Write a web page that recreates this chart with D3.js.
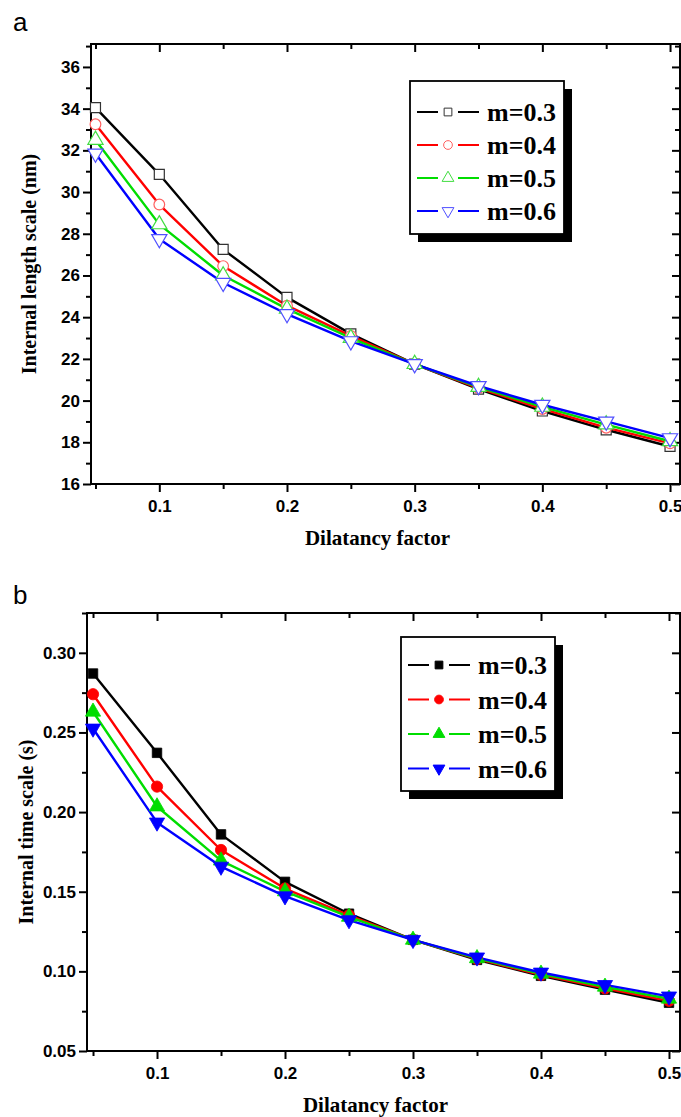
<!DOCTYPE html>
<html><head><meta charset="utf-8">
<script src="https://cdn.jsdelivr.net/npm/d3@7"></script>
<style>
html,body{margin:0;padding:0;background:#fff;}
svg{display:block;}
</style></head>
<body>
<svg id="chart" width="681" height="1117"></svg>
<script>
// ---------- data ----------
const dilatancy = [0.05, 0.1, 0.15, 0.2, 0.25, 0.3, 0.35, 0.4, 0.45, 0.5];
const seriesNames = ["m=0.3", "m=0.4", "m=0.5", "m=0.6"];
const seriesColors = ["#000000", "#ff0000", "#00dd00", "#0000ff"];
const markerColorsOpen = ["#333333", "#ff6060", "#40dd40", "#5050ff"];

const lengthM03 = [34.05, 30.85, 27.25, 24.95, 23.2, 21.75, 20.55, 19.5, 18.6, 17.8];
const lengthM04 = [33.25, 29.4, 26.45, 24.55, 23.1, 21.75, 20.6, 19.6, 18.7, 17.95];
const lengthM05 = [32.5, 28.45, 26.0, 24.4, 23.0, 21.75, 20.65, 19.7, 18.85, 18.05];
const lengthM06 = [31.85, 27.75, 25.65, 24.15, 22.85, 21.75, 20.7, 19.8, 19.0, 18.2];

const timeM03 = [0.287, 0.2372, 0.186, 0.1562, 0.1362, 0.1198, 0.1072, 0.0972, 0.0885, 0.0803];
const timeM04 = [0.274, 0.216, 0.1762, 0.152, 0.1352, 0.1198, 0.1078, 0.0978, 0.0893, 0.0815];
const timeM05 = [0.263, 0.2035, 0.1695, 0.1502, 0.1342, 0.1198, 0.1082, 0.0985, 0.0903, 0.0828];
const timeM06 = [0.2525, 0.1935, 0.1658, 0.1472, 0.1322, 0.1198, 0.1088, 0.0993, 0.0915, 0.0843];

const xMajorTicks = [0.1, 0.2, 0.3, 0.4, 0.5];
const xMinorTicks = [0.05, 0.15, 0.25, 0.35, 0.45];
const lengthMajorTicks = [16, 18, 20, 22, 24, 26, 28, 30, 32, 34, 36];
const lengthMinorTicks = [17, 19, 21, 23, 25, 27, 29, 31, 33, 35, 37];
const timeMajorTicks = [0.05, 0.10, 0.15, 0.20, 0.25, 0.30];
const timeMinorTicks = [0.075, 0.125, 0.175, 0.225, 0.275, 0.325];

const svg = d3.select("#chart");
const symbolsOf = [d3.symbolSquare, d3.symbolCircle, d3.symbolTriangle, d3.symbolTriangle];
const rotOf = [0, 0, 0, 180];

function panel(cfg) {
  const x = d3.scaleLinear().domain(cfg.xDomain).range(cfg.xRange);
  const y = d3.scaleLinear().domain(cfg.yDomain).range(cfg.yRange);
  const g = svg.append("g");
  const [x0, x1] = cfg.xRange, [y0, y1] = cfg.yRange; // y0 bottom, y1 top

  // panel letter
  svg.append("text").attr("x", 13).attr("y", cfg.letterY)
    .attr("font-family", "Liberation Sans, Arial, sans-serif").attr("font-size", 26)
    .text(cfg.letter);

  // axes via d3 axis generators
  const bottomMaj = d3.axisBottom(x).tickValues(xMajorTicks).tickSize(8).tickFormat(d3.format(".1f"));
  const bottomMin = d3.axisBottom(x).tickValues(xMinorTicks).tickSize(5).tickFormat("");
  const topMaj = d3.axisTop(x).tickValues(xMajorTicks).tickSize(-8).tickFormat("");
  const topMin = d3.axisTop(x).tickValues(xMinorTicks).tickSize(-5).tickFormat("");
  const leftMaj = d3.axisLeft(y).tickValues(cfg.yMajor).tickSize(8).tickFormat(cfg.yFormat);
  const leftMin = d3.axisLeft(y).tickValues(cfg.yMinor.filter(v => v <= cfg.yDomain[1])).tickSize(5).tickFormat("");
  const rightMaj = d3.axisRight(y).tickValues(cfg.yMajor).tickSize(-8).tickFormat("");
  const rightMin = d3.axisRight(y).tickValues(cfg.yMinor.filter(v => v <= cfg.yDomain[1])).tickSize(-5).tickFormat("");

  const axes = [
    [bottomMaj, `translate(0,${y0})`, "b"], [bottomMin, `translate(0,${y0})`, "b"],
    [topMaj, `translate(0,${y1})`, "t"], [topMin, `translate(0,${y1})`, "t"],
    [leftMaj, `translate(${x0},0)`, "l"], [leftMin, `translate(${x0},0)`, "l"],
    [rightMaj, `translate(${x1},0)`, "r"], [rightMin, `translate(${x1},0)`, "r"]
  ];
  axes.forEach(([ax, tr, side]) => {
    const a = g.append("g").attr("transform", tr).call(ax);
    a.select(".domain").remove();
    a.selectAll(".tick line").attr("stroke", "#000").attr("stroke-width", 2);
    const t = a.selectAll(".tick text").attr("fill", "#000")
      .attr("font-family", "Liberation Sans, Arial, sans-serif")
      .attr("font-weight", "bold").attr("font-size", 17);
    if (side === "b") t.attr("dy", "1.0em");
    if (side === "l") t.attr("x", -11);
  });
  // frame
  g.append("rect").attr("x", x0).attr("y", y1).attr("width", x1 - x0).attr("height", y0 - y1)
    .attr("fill", "none").attr("stroke", "#000").attr("stroke-width", 2);

  // titles
  g.append("text").attr("x", (x0 + 670) / 2 - 3).attr("y", cfg.xTitleY)
    .attr("text-anchor", "middle").attr("font-family", "Liberation Serif, Times New Roman, serif")
    .attr("font-weight", "bold").attr("font-size", 21).text("Dilatancy factor");
  g.append("text").attr("transform", `translate(${cfg.yTitleX},${(y0 + y1) / 2}) rotate(-90)`)
    .attr("text-anchor", "middle").attr("font-family", "Liberation Serif, Times New Roman, serif")
    .attr("font-weight", "bold").attr("font-size", 20).text(cfg.yTitle);

  // lines
  const line = d3.line().x((d, i) => x(dilatancy[i])).y(d => y(d));
  cfg.series.forEach((s, k) => {
    g.append("path").datum(s).attr("d", line).attr("fill", "none")
      .attr("stroke", seriesColors[k]).attr("stroke-width", 2.4).attr("stroke-linejoin", "round");
  });
  // markers
  cfg.series.forEach((s, k) => {
    const sym = d3.symbol().type(symbolsOf[k]).size(cfg.filled ? (k === 0 ? 90 : 100) : (k === 0 ? 100 : (k === 1 ? 90 : 100)));
    g.selectAll(null).data(s).enter().append("path")
      .attr("d", sym)
      .attr("transform", (d, i) => `translate(${x(dilatancy[i])},${y(d)}) rotate(${rotOf[k]})`)
      .attr("fill", cfg.filled ? seriesColors[k] : "#fff")
      .attr("stroke", cfg.filled ? seriesColors[k] : markerColorsOpen[k])
      .attr("stroke-width", cfg.filled ? 0.8 : 1.2);
  });

  // legend
  const L = cfg.legend;
  g.append("rect").attr("x", L.x + 8).attr("y", L.y + 8).attr("width", L.w).attr("height", L.h).attr("fill", "#000");
  g.append("rect").attr("x", L.x).attr("y", L.y).attr("width", L.w).attr("height", L.h)
    .attr("fill", "#fff").attr("stroke", "#000").attr("stroke-width", 1.8);
  seriesNames.forEach((name, k) => {
    const cy = L.y + L.firstRow + k * L.step;
    const lx = L.x + 7, mx = lx + 31, rx = lx + 62;
    g.append("line").attr("x1", lx).attr("x2", mx - 10).attr("y1", cy).attr("y2", cy)
      .attr("stroke", seriesColors[k]).attr("stroke-width", 2);
    g.append("line").attr("x1", mx + 10).attr("x2", rx).attr("y1", cy).attr("y2", cy)
      .attr("stroke", seriesColors[k]).attr("stroke-width", 2);
    const sym = d3.symbol().type(symbolsOf[k]).size(60);
    g.append("path").attr("d", sym).attr("transform", `translate(${mx},${cy}) rotate(${rotOf[k]})`)
      .attr("fill", cfg.filled ? seriesColors[k] : "#fff")
      .attr("stroke", cfg.filled ? seriesColors[k] : markerColorsOpen[k]).attr("stroke-width", 1);
    g.append("text").attr("x", rx + 8).attr("y", cy + 9)
      .attr("font-family", "Liberation Serif, Times New Roman, serif")
      .attr("font-weight", "bold").attr("font-size", 26).text(name);
  });
}

panel({
  letter: "a", letterY: 31,
  xDomain: [0.0465, 0.5078], xRange: [91, 680],
  yDomain: [16, 37.1], yRange: [484, 44],
  yMajor: lengthMajorTicks, yMinor: lengthMinorTicks, yFormat: d3.format("d"),
  yTitle: "Internal length scale (nm)", yTitleX: 36, xTitleY: 545,
  series: [lengthM03, lengthM04, lengthM05, lengthM06], filled: false,
  legend: { x: 410, y: 81, w: 154, h: 153, firstRow: 31, step: 33 }
});

panel({
  letter: "b", letterY: 604,
  xDomain: [0.0453, 0.5086], xRange: [87, 680],
  yDomain: [0.05, 0.325], yRange: [1051, 613],
  yMajor: timeMajorTicks, yMinor: timeMinorTicks, yFormat: d3.format(".2f"),
  yTitle: "Internal time scale (s)", yTitleX: 33, xTitleY: 1112,
  series: [timeM03, timeM04, timeM05, timeM06], filled: true,
  legend: { x: 401, y: 637, w: 154, h: 154, firstRow: 28, step: 34.5 }
});
</script>
</body></html>
